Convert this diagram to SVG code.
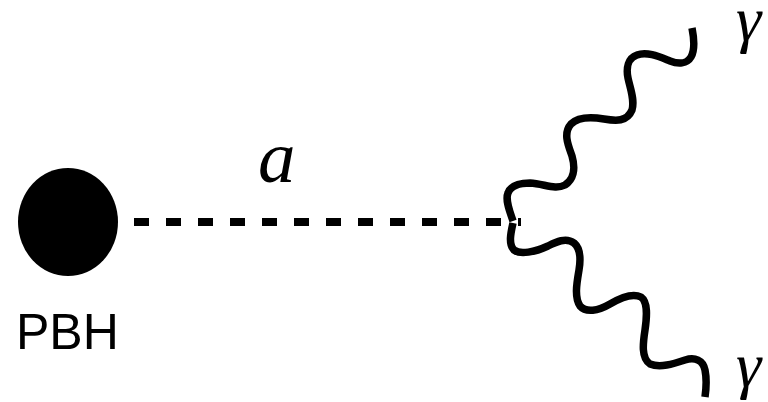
<svg xmlns="http://www.w3.org/2000/svg" width="768" height="402" viewBox="0 0 768 402">
<style>
.wave{fill:none;stroke:#000;stroke-width:7.5;stroke-linecap:butt;stroke-linejoin:round}
.dash{fill:none;stroke:#000;stroke-width:8;stroke-dasharray:15 17}
.it{font-family:"Liberation Serif","Times New Roman",serif;font-style:italic;fill:#000}
.sans{font-family:"Liberation Sans",Arial,sans-serif;fill:#000}
</style>
<rect width="768" height="402" fill="#fff"/>
<g id="connectors">
<path class="dash" d="M134,222 H521"/>
<path id="photon-up" class="wave" d="M513,221 C510,212 505,200 508,193 C511,185 520,183 530,183 C545,184 555,190 565,185 C573,180 576,170 572,156 C568,145 563,133 571,124 C578,117 592,117 604,119 C616,121 627,122 632,110 C635,100 630,88 628,78 C626,68 628,58 637,55 C647,51 660,57 670,61 C678,64 687,64 691,57 C695,50 694,38 692,28"/>
<path id="photon-down" class="wave" d="M513,223 C511,232 508,244 514,250 C520,255 535,252 548,246 C556,242 566,237 574,243 C580,248 581,258 579,270 C577,282 574,297 580,306 C586,313 598,311 610,304 C620,298 633,293 641,297 C648,302 647,316 645,330 C643,343 641,358 650,364 C660,368 673,364 685,360 C695,357 703,360 705,370 C707,380 706,390 705,397"/>
</g>
<g id="pbh">
<ellipse cx="68" cy="222" rx="50" ry="54" fill="#000"/>
<text class="sans" x="16" y="349" font-size="50">PBH</text>
</g>
<g id="label-a">
<text class="it" x="258" y="182" font-size="75">a</text>
</g>
<g id="gamma-top">
<text class="it" x="736" y="40" font-size="64">γ</text>
</g>
<g id="gamma-bottom">
<text class="it" x="736" y="386" font-size="64">γ</text>
</g>
</svg>
